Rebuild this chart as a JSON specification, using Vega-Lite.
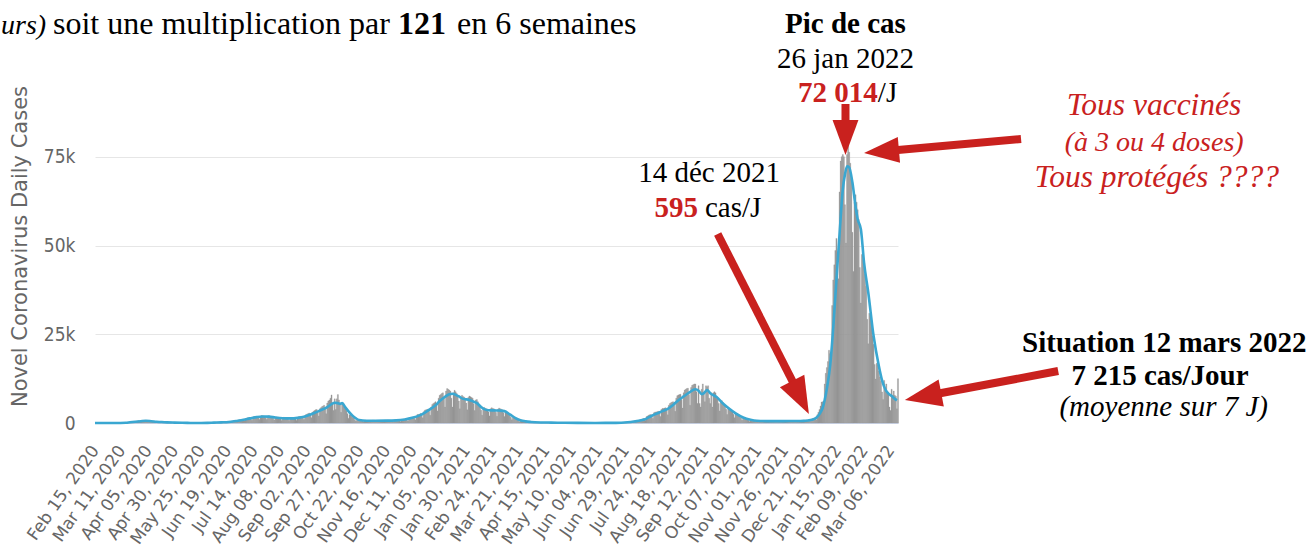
{
"$schema": "https://vega.github.io/schema/vega-lite/v6.json",
"width": 803, "height": 284,
"autosize": {"type": "none"},
"padding": {"left": 95, "top": 139, "right": 413, "bottom": 127},
"background": "white",
"config": {"view": {"stroke": null}, "font": "DejaVu Sans", "axis": {"labelOverlap": false}, "axisX": {"labelOverlap": false}},
"datasets": {
"daily": [
{"d":"2020-02-15","c":0},{"d":"2020-02-16","c":0},{"d":"2020-02-17","c":0},{"d":"2020-02-18","c":0},{"d":"2020-02-19","c":0},{"d":"2020-02-20","c":0},{"d":"2020-02-21","c":1},{"d":"2020-02-22","c":0},{"d":"2020-02-23","c":0},{"d":"2020-02-24","c":1},{"d":"2020-02-25","c":0},{"d":"2020-02-26","c":0},{"d":"2020-02-27","c":1},{"d":"2020-02-28","c":0},{"d":"2020-02-29","c":0},
{"d":"2020-03-01","c":2},{"d":"2020-03-02","c":3},{"d":"2020-03-03","c":2},{"d":"2020-03-04","c":3},{"d":"2020-03-05","c":5},{"d":"2020-03-06","c":4},{"d":"2020-03-07","c":2},{"d":"2020-03-08","c":8},{"d":"2020-03-09","c":11},{"d":"2020-03-10","c":25},{"d":"2020-03-11","c":18},{"d":"2020-03-12","c":31},{"d":"2020-03-13","c":28},{"d":"2020-03-14","c":50},{"d":"2020-03-15","c":70},{"d":"2020-03-16","c":100},{"d":"2020-03-17","c":125},{"d":"2020-03-18","c":180},{"d":"2020-03-19","c":240},{"d":"2020-03-20","c":170},{"d":"2020-03-21","c":180},{"d":"2020-03-22","c":400},{"d":"2020-03-23","c":420},{"d":"2020-03-24","c":450},{"d":"2020-03-25","c":560},{"d":"2020-03-26","c":650},{"d":"2020-03-27","c":520},{"d":"2020-03-28","c":380},{"d":"2020-03-29","c":600},{"d":"2020-03-30","c":720},{"d":"2020-03-31","c":700},
{"d":"2020-04-01","c":750},{"d":"2020-04-02","c":700},{"d":"2020-04-03","c":550},{"d":"2020-04-04","c":400},{"d":"2020-04-05","c":550},{"d":"2020-04-06","c":500},{"d":"2020-04-07","c":520},{"d":"2020-04-08","c":400},{"d":"2020-04-09","c":380},{"d":"2020-04-10","c":300},{"d":"2020-04-11","c":220},{"d":"2020-04-12","c":330},{"d":"2020-04-13","c":300},{"d":"2020-04-14","c":280},{"d":"2020-04-15","c":260},{"d":"2020-04-16","c":250},{"d":"2020-04-17","c":200},{"d":"2020-04-18","c":120},{"d":"2020-04-19","c":230},{"d":"2020-04-20","c":210},{"d":"2020-04-21","c":170},{"d":"2020-04-22","c":160},{"d":"2020-04-23","c":150},{"d":"2020-04-24","c":110},{"d":"2020-04-25","c":60},{"d":"2020-04-26","c":120},{"d":"2020-04-27","c":110},{"d":"2020-04-28","c":90},{"d":"2020-04-29","c":80},{"d":"2020-04-30","c":70},
{"d":"2020-05-01","c":50},{"d":"2020-05-02","c":20},{"d":"2020-05-03","c":45},{"d":"2020-05-04","c":40},{"d":"2020-05-05","c":35},{"d":"2020-05-06","c":30},{"d":"2020-05-07","c":25},{"d":"2020-05-08","c":20},{"d":"2020-05-09","c":10},{"d":"2020-05-10","c":20},{"d":"2020-05-11","c":15},{"d":"2020-05-12","c":15},{"d":"2020-05-13","c":12},{"d":"2020-05-14","c":10},{"d":"2020-05-15","c":10},{"d":"2020-05-16","c":5},{"d":"2020-05-17","c":15},{"d":"2020-05-18","c":10},{"d":"2020-05-19","c":12},{"d":"2020-05-20","c":15},{"d":"2020-05-21","c":10},{"d":"2020-05-22","c":8},{"d":"2020-05-23","c":5},{"d":"2020-05-24","c":15},{"d":"2020-05-25","c":20},{"d":"2020-05-26","c":20},{"d":"2020-05-27","c":30},{"d":"2020-05-28","c":40},{"d":"2020-05-29","c":50},{"d":"2020-05-30","c":30},{"d":"2020-05-31","c":80},
{"d":"2020-06-01","c":100},{"d":"2020-06-02","c":110},{"d":"2020-06-03","c":120},{"d":"2020-06-04","c":130},{"d":"2020-06-05","c":110},{"d":"2020-06-06","c":60},{"d":"2020-06-07","c":150},{"d":"2020-06-08","c":170},{"d":"2020-06-09","c":180},{"d":"2020-06-10","c":190},{"d":"2020-06-11","c":180},{"d":"2020-06-12","c":150},{"d":"2020-06-13","c":90},{"d":"2020-06-14","c":220},{"d":"2020-06-15","c":250},{"d":"2020-06-16","c":290},{"d":"2020-06-17","c":310},{"d":"2020-06-18","c":320},{"d":"2020-06-19","c":260},{"d":"2020-06-20","c":170},{"d":"2020-06-21","c":400},{"d":"2020-06-22","c":480},{"d":"2020-06-23","c":560},{"d":"2020-06-24","c":650},{"d":"2020-06-25","c":690},{"d":"2020-06-26","c":560},{"d":"2020-06-27","c":380},{"d":"2020-06-28","c":800},{"d":"2020-06-29","c":900},{"d":"2020-06-30","c":950},
{"d":"2020-07-01","c":1000},{"d":"2020-07-02","c":1000},{"d":"2020-07-03","c":850},{"d":"2020-07-04","c":600},{"d":"2020-07-05","c":1200},{"d":"2020-07-06","c":1350},{"d":"2020-07-07","c":1450},{"d":"2020-07-08","c":1450},{"d":"2020-07-09","c":1400},{"d":"2020-07-10","c":1150},{"d":"2020-07-11","c":800},{"d":"2020-07-12","c":1650},{"d":"2020-07-13","c":1850},{"d":"2020-07-14","c":1800},{"d":"2020-07-15","c":1800},{"d":"2020-07-16","c":1750},{"d":"2020-07-17","c":1500},{"d":"2020-07-18","c":1000},{"d":"2020-07-19","c":1950},{"d":"2020-07-20","c":2100},{"d":"2020-07-21","c":2050},{"d":"2020-07-22","c":2000},{"d":"2020-07-23","c":1900},{"d":"2020-07-24","c":1550},{"d":"2020-07-25","c":1000},{"d":"2020-07-26","c":1950},{"d":"2020-07-27","c":2050},{"d":"2020-07-28","c":1950},{"d":"2020-07-29","c":1850},{"d":"2020-07-30","c":1700},{"d":"2020-07-31","c":1350},
{"d":"2020-08-01","c":850},{"d":"2020-08-02","c":1650},{"d":"2020-08-03","c":1700},{"d":"2020-08-04","c":1600},{"d":"2020-08-05","c":1550},{"d":"2020-08-06","c":1450},{"d":"2020-08-07","c":1150},{"d":"2020-08-08","c":700},{"d":"2020-08-09","c":1500},{"d":"2020-08-10","c":1600},{"d":"2020-08-11","c":1550},{"d":"2020-08-12","c":1450},{"d":"2020-08-13","c":1400},{"d":"2020-08-14","c":1100},{"d":"2020-08-15","c":700},{"d":"2020-08-16","c":1400},{"d":"2020-08-17","c":1550},{"d":"2020-08-18","c":1500},{"d":"2020-08-19","c":1450},{"d":"2020-08-20","c":1400},{"d":"2020-08-21","c":1150},{"d":"2020-08-22","c":750},{"d":"2020-08-23","c":1550},{"d":"2020-08-24","c":1750},{"d":"2020-08-25","c":1800},{"d":"2020-08-26","c":1850},{"d":"2020-08-27","c":1900},{"d":"2020-08-28","c":1550},{"d":"2020-08-29","c":1000},{"d":"2020-08-30","c":2100},{"d":"2020-08-31","c":2400},
{"d":"2020-09-01","c":2500},{"d":"2020-09-02","c":2700},{"d":"2020-09-03","c":2800},{"d":"2020-09-04","c":2300},{"d":"2020-09-05","c":1500},{"d":"2020-09-06","c":3000},{"d":"2020-09-07","c":3300},{"d":"2020-09-08","c":3500},{"d":"2020-09-09","c":3700},{"d":"2020-09-10","c":3800},{"d":"2020-09-11","c":3100},{"d":"2020-09-12","c":2000},{"d":"2020-09-13","c":4000},{"d":"2020-09-14","c":4300},{"d":"2020-09-15","c":4600},{"d":"2020-09-16","c":4800},{"d":"2020-09-17","c":5000},{"d":"2020-09-18","c":4000},{"d":"2020-09-19","c":2600},{"d":"2020-09-20","c":5600},{"d":"2020-09-21","c":6200},{"d":"2020-09-22","c":6500},{"d":"2020-09-23","c":7000},{"d":"2020-09-24","c":7900},{"d":"2020-09-25","c":5500},{"d":"2020-09-26","c":3500},{"d":"2020-09-27","c":6800},{"d":"2020-09-28","c":3800},{"d":"2020-09-29","c":6800},{"d":"2020-09-30","c":8000},
{"d":"2020-10-01","c":6500},{"d":"2020-10-02","c":5500},{"d":"2020-10-03","c":3000},{"d":"2020-10-04","c":5200},{"d":"2020-10-05","c":5500},{"d":"2020-10-06","c":4500},{"d":"2020-10-07","c":4000},{"d":"2020-10-08","c":3500},{"d":"2020-10-09","c":2600},{"d":"2020-10-10","c":1300},{"d":"2020-10-11","c":2300},{"d":"2020-10-12","c":2400},{"d":"2020-10-13","c":1900},{"d":"2020-10-14","c":1600},{"d":"2020-10-15","c":1400},{"d":"2020-10-16","c":900},{"d":"2020-10-17","c":550},{"d":"2020-10-18","c":850},{"d":"2020-10-19","c":850},{"d":"2020-10-20","c":750},{"d":"2020-10-21","c":700},{"d":"2020-10-22","c":720},{"d":"2020-10-23","c":560},{"d":"2020-10-24","c":350},{"d":"2020-10-25","c":700},{"d":"2020-10-26","c":750},{"d":"2020-10-27","c":700},{"d":"2020-10-28","c":650},{"d":"2020-10-29","c":650},{"d":"2020-10-30","c":500},{"d":"2020-10-31","c":300},
{"d":"2020-11-01","c":700},{"d":"2020-11-02","c":780},{"d":"2020-11-03","c":750},{"d":"2020-11-04","c":720},{"d":"2020-11-05","c":690},{"d":"2020-11-06","c":550},{"d":"2020-11-07","c":350},{"d":"2020-11-08","c":690},{"d":"2020-11-09","c":760},{"d":"2020-11-10","c":740},{"d":"2020-11-11","c":710},{"d":"2020-11-12","c":680},{"d":"2020-11-13","c":540},{"d":"2020-11-14","c":350},{"d":"2020-11-15","c":700},{"d":"2020-11-16","c":800},{"d":"2020-11-17","c":760},{"d":"2020-11-18","c":730},{"d":"2020-11-19","c":700},{"d":"2020-11-20","c":560},{"d":"2020-11-21","c":360},{"d":"2020-11-22","c":760},{"d":"2020-11-23","c":850},{"d":"2020-11-24","c":820},{"d":"2020-11-25","c":800},{"d":"2020-11-26","c":780},{"d":"2020-11-27","c":620},{"d":"2020-11-28","c":400},{"d":"2020-11-29","c":900},{"d":"2020-11-30","c":1000},
{"d":"2020-12-01","c":1050},{"d":"2020-12-02","c":1050},{"d":"2020-12-03","c":1050},{"d":"2020-12-04","c":850},{"d":"2020-12-05","c":550},{"d":"2020-12-06","c":1350},{"d":"2020-12-07","c":1550},{"d":"2020-12-08","c":1550},{"d":"2020-12-09","c":1600},{"d":"2020-12-10","c":1650},{"d":"2020-12-11","c":1350},{"d":"2020-12-12","c":900},{"d":"2020-12-13","c":2000},{"d":"2020-12-14","c":2400},{"d":"2020-12-15","c":2400},{"d":"2020-12-16","c":2500},{"d":"2020-12-17","c":2700},{"d":"2020-12-18","c":2300},{"d":"2020-12-19","c":1500},{"d":"2020-12-20","c":3200},{"d":"2020-12-21","c":3600},{"d":"2020-12-22","c":3700},{"d":"2020-12-23","c":3800},{"d":"2020-12-24","c":3900},{"d":"2020-12-25","c":3300},{"d":"2020-12-26","c":2200},{"d":"2020-12-27","c":4500},{"d":"2020-12-28","c":5200},{"d":"2020-12-29","c":5500},{"d":"2020-12-30","c":5700},{"d":"2020-12-31","c":6000},
{"d":"2021-01-01","c":5200},{"d":"2021-01-02","c":3400},{"d":"2021-01-03","c":7000},{"d":"2021-01-04","c":7800},{"d":"2021-01-05","c":8000},{"d":"2021-01-06","c":8300},{"d":"2021-01-07","c":8500},{"d":"2021-01-08","c":7000},{"d":"2021-01-09","c":4500},{"d":"2021-01-10","c":9000},{"d":"2021-01-11","c":9700},{"d":"2021-01-12","c":9500},{"d":"2021-01-13","c":9300},{"d":"2021-01-14","c":9000},{"d":"2021-01-15","c":7000},{"d":"2021-01-16","c":4500},{"d":"2021-01-17","c":8500},{"d":"2021-01-18","c":9200},{"d":"2021-01-19","c":8800},{"d":"2021-01-20","c":8300},{"d":"2021-01-21","c":7800},{"d":"2021-01-22","c":6200},{"d":"2021-01-23","c":4000},{"d":"2021-01-24","c":7300},{"d":"2021-01-25","c":7800},{"d":"2021-01-26","c":7500},{"d":"2021-01-27","c":7300},{"d":"2021-01-28","c":7000},{"d":"2021-01-29","c":5600},{"d":"2021-01-30","c":3700},{"d":"2021-01-31","c":7200},
{"d":"2021-02-01","c":7600},{"d":"2021-02-02","c":7400},{"d":"2021-02-03","c":7200},{"d":"2021-02-04","c":7000},{"d":"2021-02-05","c":5400},{"d":"2021-02-06","c":3500},{"d":"2021-02-07","c":6500},{"d":"2021-02-08","c":6600},{"d":"2021-02-09","c":6000},{"d":"2021-02-10","c":5300},{"d":"2021-02-11","c":4700},{"d":"2021-02-12","c":3600},{"d":"2021-02-13","c":2200},{"d":"2021-02-14","c":4200},{"d":"2021-02-15","c":4400},{"d":"2021-02-16","c":4100},{"d":"2021-02-17","c":4000},{"d":"2021-02-18","c":3900},{"d":"2021-02-19","c":3100},{"d":"2021-02-20","c":2000},{"d":"2021-02-21","c":4000},{"d":"2021-02-22","c":4300},{"d":"2021-02-23","c":4100},{"d":"2021-02-24","c":4000},{"d":"2021-02-25","c":3800},{"d":"2021-02-26","c":3000},{"d":"2021-02-27","c":1900},{"d":"2021-02-28","c":3900},
{"d":"2021-03-01","c":4200},{"d":"2021-03-02","c":4000},{"d":"2021-03-03","c":3900},{"d":"2021-03-04","c":3700},{"d":"2021-03-05","c":2900},{"d":"2021-03-06","c":1800},{"d":"2021-03-07","c":3300},{"d":"2021-03-08","c":3100},{"d":"2021-03-09","c":2700},{"d":"2021-03-10","c":2500},{"d":"2021-03-11","c":2200},{"d":"2021-03-12","c":1600},{"d":"2021-03-13","c":900},{"d":"2021-03-14","c":1600},{"d":"2021-03-15","c":1500},{"d":"2021-03-16","c":1300},{"d":"2021-03-17","c":1100},{"d":"2021-03-18","c":950},{"d":"2021-03-19","c":650},{"d":"2021-03-20","c":350},{"d":"2021-03-21","c":650},{"d":"2021-03-22","c":600},{"d":"2021-03-23","c":520},{"d":"2021-03-24","c":480},{"d":"2021-03-25","c":430},{"d":"2021-03-26","c":300},{"d":"2021-03-27","c":180},{"d":"2021-03-28","c":330},{"d":"2021-03-29","c":350},{"d":"2021-03-30","c":300},{"d":"2021-03-31","c":280},
{"d":"2021-04-01","c":250},{"d":"2021-04-02","c":180},{"d":"2021-04-03","c":100},{"d":"2021-04-04","c":200},{"d":"2021-04-05","c":230},{"d":"2021-04-06","c":220},{"d":"2021-04-07","c":200},{"d":"2021-04-08","c":190},{"d":"2021-04-09","c":140},{"d":"2021-04-10","c":70},{"d":"2021-04-11","c":160},{"d":"2021-04-12","c":170},{"d":"2021-04-13","c":150},{"d":"2021-04-14","c":120},{"d":"2021-04-15","c":110},{"d":"2021-04-16","c":90},{"d":"2021-04-17","c":50},{"d":"2021-04-18","c":120},{"d":"2021-04-19","c":130},{"d":"2021-04-20","c":120},{"d":"2021-04-21","c":110},{"d":"2021-04-22","c":100},{"d":"2021-04-23","c":80},{"d":"2021-04-24","c":40},{"d":"2021-04-25","c":90},{"d":"2021-04-26","c":100},{"d":"2021-04-27","c":90},{"d":"2021-04-28","c":80},{"d":"2021-04-29","c":75},{"d":"2021-04-30","c":60},
{"d":"2021-05-01","c":30},{"d":"2021-05-02","c":60},{"d":"2021-05-03","c":70},{"d":"2021-05-04","c":65},{"d":"2021-05-05","c":60},{"d":"2021-05-06","c":55},{"d":"2021-05-07","c":45},{"d":"2021-05-08","c":20},{"d":"2021-05-09","c":50},{"d":"2021-05-10","c":55},{"d":"2021-05-11","c":50},{"d":"2021-05-12","c":45},{"d":"2021-05-13","c":40},{"d":"2021-05-14","c":30},{"d":"2021-05-15","c":15},{"d":"2021-05-16","c":40},{"d":"2021-05-17","c":45},{"d":"2021-05-18","c":40},{"d":"2021-05-19","c":35},{"d":"2021-05-20","c":35},{"d":"2021-05-21","c":25},{"d":"2021-05-22","c":12},{"d":"2021-05-23","c":30},{"d":"2021-05-24","c":35},{"d":"2021-05-25","c":30},{"d":"2021-05-26","c":25},{"d":"2021-05-27","c":25},{"d":"2021-05-28","c":20},{"d":"2021-05-29","c":10},{"d":"2021-05-30","c":20},{"d":"2021-05-31","c":25},
{"d":"2021-06-01","c":20},{"d":"2021-06-02","c":20},{"d":"2021-06-03","c":18},{"d":"2021-06-04","c":15},{"d":"2021-06-05","c":8},{"d":"2021-06-06","c":15},{"d":"2021-06-07","c":18},{"d":"2021-06-08","c":15},{"d":"2021-06-09","c":15},{"d":"2021-06-10","c":15},{"d":"2021-06-11","c":10},{"d":"2021-06-12","c":5},{"d":"2021-06-13","c":15},{"d":"2021-06-14","c":20},{"d":"2021-06-15","c":30},{"d":"2021-06-16","c":40},{"d":"2021-06-17","c":55},{"d":"2021-06-18","c":50},{"d":"2021-06-19","c":30},{"d":"2021-06-20","c":90},{"d":"2021-06-21","c":110},{"d":"2021-06-22","c":120},{"d":"2021-06-23","c":130},{"d":"2021-06-24","c":140},{"d":"2021-06-25","c":110},{"d":"2021-06-26","c":70},{"d":"2021-06-27","c":200},{"d":"2021-06-28","c":250},{"d":"2021-06-29","c":280},{"d":"2021-06-30","c":300},
{"d":"2021-07-01","c":320},{"d":"2021-07-02","c":280},{"d":"2021-07-03","c":180},{"d":"2021-07-04","c":420},{"d":"2021-07-05","c":480},{"d":"2021-07-06","c":500},{"d":"2021-07-07","c":550},{"d":"2021-07-08","c":600},{"d":"2021-07-09","c":500},{"d":"2021-07-10","c":350},{"d":"2021-07-11","c":800},{"d":"2021-07-12","c":900},{"d":"2021-07-13","c":1000},{"d":"2021-07-14","c":1100},{"d":"2021-07-15","c":1250},{"d":"2021-07-16","c":1100},{"d":"2021-07-17","c":750},{"d":"2021-07-18","c":1800},{"d":"2021-07-19","c":2000},{"d":"2021-07-20","c":2200},{"d":"2021-07-21","c":2300},{"d":"2021-07-22","c":2400},{"d":"2021-07-23","c":2000},{"d":"2021-07-24","c":1300},{"d":"2021-07-25","c":2900},{"d":"2021-07-26","c":3100},{"d":"2021-07-27","c":3100},{"d":"2021-07-28","c":3200},{"d":"2021-07-29","c":3300},{"d":"2021-07-30","c":2800},{"d":"2021-07-31","c":1800},
{"d":"2021-08-01","c":3800},{"d":"2021-08-02","c":4100},{"d":"2021-08-03","c":4100},{"d":"2021-08-04","c":4200},{"d":"2021-08-05","c":4300},{"d":"2021-08-06","c":3600},{"d":"2021-08-07","c":2300},{"d":"2021-08-08","c":5000},{"d":"2021-08-09","c":5500},{"d":"2021-08-10","c":5700},{"d":"2021-08-11","c":5900},{"d":"2021-08-12","c":6000},{"d":"2021-08-13","c":5000},{"d":"2021-08-14","c":3300},{"d":"2021-08-15","c":7000},{"d":"2021-08-16","c":7700},{"d":"2021-08-17","c":7900},{"d":"2021-08-18","c":8000},{"d":"2021-08-19","c":8100},{"d":"2021-08-20","c":6600},{"d":"2021-08-21","c":4200},{"d":"2021-08-22","c":8500},{"d":"2021-08-23","c":9300},{"d":"2021-08-24","c":9500},{"d":"2021-08-25","c":9700},{"d":"2021-08-26","c":9800},{"d":"2021-08-27","c":8000},{"d":"2021-08-28","c":5000},{"d":"2021-08-29","c":10000},{"d":"2021-08-30","c":10600},{"d":"2021-08-31","c":10800},
{"d":"2021-09-01","c":11000},{"d":"2021-09-02","c":11000},{"d":"2021-09-03","c":8800},{"d":"2021-09-04","c":5500},{"d":"2021-09-05","c":10500},{"d":"2021-09-06","c":5500},{"d":"2021-09-07","c":4500},{"d":"2021-09-08","c":9500},{"d":"2021-09-09","c":11000},{"d":"2021-09-10","c":8500},{"d":"2021-09-11","c":6000},{"d":"2021-09-12","c":10500},{"d":"2021-09-13","c":10200},{"d":"2021-09-14","c":10500},{"d":"2021-09-15","c":7000},{"d":"2021-09-16","c":5500},{"d":"2021-09-17","c":8500},{"d":"2021-09-18","c":4500},{"d":"2021-09-19","c":8500},{"d":"2021-09-20","c":8800},{"d":"2021-09-21","c":8500},{"d":"2021-09-22","c":7000},{"d":"2021-09-23","c":6800},{"d":"2021-09-24","c":5500},{"d":"2021-09-25","c":3400},{"d":"2021-09-26","c":6200},{"d":"2021-09-27","c":6300},{"d":"2021-09-28","c":5800},{"d":"2021-09-29","c":5300},{"d":"2021-09-30","c":5000},
{"d":"2021-10-01","c":3900},{"d":"2021-10-02","c":2400},{"d":"2021-10-03","c":4200},{"d":"2021-10-04","c":4100},{"d":"2021-10-05","c":3800},{"d":"2021-10-06","c":3500},{"d":"2021-10-07","c":3200},{"d":"2021-10-08","c":2500},{"d":"2021-10-09","c":1500},{"d":"2021-10-10","c":2600},{"d":"2021-10-11","c":2500},{"d":"2021-10-12","c":2200},{"d":"2021-10-13","c":2000},{"d":"2021-10-14","c":1800},{"d":"2021-10-15","c":1400},{"d":"2021-10-16","c":800},{"d":"2021-10-17","c":1500},{"d":"2021-10-18","c":1400},{"d":"2021-10-19","c":1250},{"d":"2021-10-20","c":1100},{"d":"2021-10-21","c":1000},{"d":"2021-10-22","c":800},{"d":"2021-10-23","c":450},{"d":"2021-10-24","c":850},{"d":"2021-10-25","c":850},{"d":"2021-10-26","c":750},{"d":"2021-10-27","c":700},{"d":"2021-10-28","c":650},{"d":"2021-10-29","c":500},{"d":"2021-10-30","c":300},{"d":"2021-10-31","c":600},
{"d":"2021-11-01","c":620},{"d":"2021-11-02","c":600},{"d":"2021-11-03","c":570},{"d":"2021-11-04","c":550},{"d":"2021-11-05","c":440},{"d":"2021-11-06","c":280},{"d":"2021-11-07","c":560},{"d":"2021-11-08","c":600},{"d":"2021-11-09","c":580},{"d":"2021-11-10","c":560},{"d":"2021-11-11","c":540},{"d":"2021-11-12","c":430},{"d":"2021-11-13","c":270},{"d":"2021-11-14","c":550},{"d":"2021-11-15","c":590},{"d":"2021-11-16","c":580},{"d":"2021-11-17","c":560},{"d":"2021-11-18","c":540},{"d":"2021-11-19","c":430},{"d":"2021-11-20","c":270},{"d":"2021-11-21","c":560},{"d":"2021-11-22","c":600},{"d":"2021-11-23","c":590},{"d":"2021-11-24","c":570},{"d":"2021-11-25","c":550},{"d":"2021-11-26","c":440},{"d":"2021-11-27","c":280},{"d":"2021-11-28","c":570},{"d":"2021-11-29","c":610},{"d":"2021-11-30","c":600},
{"d":"2021-12-01","c":580},{"d":"2021-12-02","c":560},{"d":"2021-12-03","c":450},{"d":"2021-12-04","c":280},{"d":"2021-12-05","c":580},{"d":"2021-12-06","c":640},{"d":"2021-12-07","c":640},{"d":"2021-12-08","c":620},{"d":"2021-12-09","c":610},{"d":"2021-12-10","c":500},{"d":"2021-12-11","c":320},{"d":"2021-12-12","c":640},{"d":"2021-12-13","c":720},{"d":"2021-12-14","c":756},{"d":"2021-12-15","c":740},{"d":"2021-12-16","c":760},{"d":"2021-12-17","c":620},{"d":"2021-12-18","c":420},{"d":"2021-12-19","c":900},{"d":"2021-12-20","c":1050},{"d":"2021-12-21","c":1150},{"d":"2021-12-22","c":1300},{"d":"2021-12-23","c":1400},{"d":"2021-12-24","c":1250},{"d":"2021-12-25","c":900},{"d":"2021-12-26","c":2300},{"d":"2021-12-27","c":3000},{"d":"2021-12-28","c":3800},{"d":"2021-12-29","c":4800},{"d":"2021-12-30","c":5900},{"d":"2021-12-31","c":6000},
{"d":"2022-01-01","c":5950},{"d":"2022-01-02","c":11000},{"d":"2022-01-03","c":14000},{"d":"2022-01-04","c":15600},{"d":"2022-01-05","c":17300},{"d":"2022-01-06","c":20500},{"d":"2022-01-07","c":19550},{"d":"2022-01-08","c":18900},{"d":"2022-01-09","c":33100},{"d":"2022-01-10","c":40300},{"d":"2022-01-11","c":44550},{"d":"2022-01-12","c":48600},{"d":"2022-01-13","c":52000},{"d":"2022-01-14","c":45650},{"d":"2022-01-15","c":40600},{"d":"2022-01-16","c":65100},{"d":"2022-01-17","c":73800},{"d":"2022-01-18","c":75000},{"d":"2022-01-19","c":75600},{"d":"2022-01-20","c":75000},{"d":"2022-01-21","c":61500},{"d":"2022-01-22","c":50700},{"d":"2022-01-23","c":75600},{"d":"2022-01-24","c":79300},{"d":"2022-01-25","c":76300},{"d":"2022-01-26","c":73200},{"d":"2022-01-27","c":68800},{"d":"2022-01-28","c":53700},{"d":"2022-01-29","c":42700},{"d":"2022-01-30","c":62200},{"d":"2022-01-31","c":64300},
{"d":"2022-02-01","c":62150},{"d":"2022-02-02","c":60050},{"d":"2022-02-03","c":57300},{"d":"2022-02-04","c":43800},{"d":"2022-02-05","c":33800},{"d":"2022-02-06","c":47500},{"d":"2022-02-07","c":48200},{"d":"2022-02-08","c":45000},{"d":"2022-02-09","c":41900},{"d":"2022-02-10","c":38500},{"d":"2022-02-11","c":29200},{"d":"2022-02-12","c":22300},{"d":"2022-02-13","c":30900},{"d":"2022-02-14","c":30100},{"d":"2022-02-15","c":26950},{"d":"2022-02-16","c":24600},{"d":"2022-02-17","c":22150},{"d":"2022-02-18","c":16500},{"d":"2022-02-19","c":12400},{"d":"2022-02-20","c":16800},{"d":"2022-02-21","c":16450},{"d":"2022-02-22","c":14650},{"d":"2022-02-23","c":12950},{"d":"2022-02-24","c":11750},{"d":"2022-02-25","c":8750},{"d":"2022-02-26","c":6650},{"d":"2022-02-27","c":12000},{"d":"2022-02-28","c":9750},
{"d":"2022-03-01","c":11000},{"d":"2022-03-02","c":8750},{"d":"2022-03-03","c":8200},{"d":"2022-03-04","c":4500},{"d":"2022-03-05","c":3500},{"d":"2022-03-06","c":9500},{"d":"2022-03-07","c":7850},{"d":"2022-03-08","c":9000},{"d":"2022-03-09","c":7800},{"d":"2022-03-10","c":7550},{"d":"2022-03-11","c":4000},{"d":"2022-03-12","c":12500}
],
"avg": [
{"d":"2020-02-15","a":0},{"d":"2020-03-01","a":3},{"d":"2020-03-10","a":15},{"d":"2020-03-15","a":50},{"d":"2020-03-19","a":200},{"d":"2020-03-24","a":360},{"d":"2020-03-29","a":500},{"d":"2020-04-03","a":620},{"d":"2020-04-08","a":510},{"d":"2020-04-13","a":370},{"d":"2020-04-18","a":260},{"d":"2020-04-23","a":180},{"d":"2020-04-30","a":110},{"d":"2020-05-07","a":50},{"d":"2020-05-15","a":20},{"d":"2020-05-25","a":15},{"d":"2020-05-31","a":40},{"d":"2020-06-06","a":110},{"d":"2020-06-13","a":180},{"d":"2020-06-20","a":290},{"d":"2020-06-27","a":580},{"d":"2020-07-04","a":900},{"d":"2020-07-10","a":1300},{"d":"2020-07-16","a":1650},{"d":"2020-07-22","a":1850},{"d":"2020-07-28","a":1800},{"d":"2020-08-03","a":1550},{"d":"2020-08-10","a":1350},{"d":"2020-08-17","a":1300},{"d":"2020-08-24","a":1450},{"d":"2020-08-31","a":1850},{"d":"2020-09-07","a":2600},{"d":"2020-09-14","a":3500},{"d":"2020-09-21","a":4500},{"d":"2020-09-25","a":5300},{"d":"2020-09-28","a":5700},{"d":"2020-10-01","a":5600},{"d":"2020-10-03","a":5400},{"d":"2020-10-05","a":5600},{"d":"2020-10-08","a":4400},{"d":"2020-10-11","a":3300},{"d":"2020-10-15","a":2000},{"d":"2020-10-18","a":1300},{"d":"2020-10-21","a":850},{"d":"2020-10-28","a":650},{"d":"2020-11-05","a":640},{"d":"2020-11-15","a":660},{"d":"2020-11-25","a":740},{"d":"2020-12-03","a":1000},{"d":"2020-12-10","a":1450},{"d":"2020-12-17","a":2150},{"d":"2020-12-22","a":2950},{"d":"2020-12-27","a":3900},{"d":"2021-01-01","a":5000},{"d":"2021-01-05","a":6200},{"d":"2021-01-10","a":7400},{"d":"2021-01-14","a":8100},{"d":"2021-01-17","a":8250},{"d":"2021-01-21","a":7800},{"d":"2021-01-24","a":7300},{"d":"2021-01-27","a":6800},{"d":"2021-02-02","a":6500},{"d":"2021-02-06","a":6000},{"d":"2021-02-09","a":5600},{"d":"2021-02-13","a":4500},{"d":"2021-02-16","a":3900},{"d":"2021-02-20","a":3600},{"d":"2021-02-25","a":3550},{"d":"2021-03-02","a":3500},{"d":"2021-03-07","a":3350},{"d":"2021-03-12","a":2450},{"d":"2021-03-17","a":1450},{"d":"2021-03-22","a":780},{"d":"2021-03-27","a":460},{"d":"2021-04-01","a":300},{"d":"2021-04-10","a":160},{"d":"2021-04-20","a":110},{"d":"2021-05-01","a":70},{"d":"2021-05-15","a":40},{"d":"2021-06-01","a":20},{"d":"2021-06-15","a":25},{"d":"2021-06-25","a":90},{"d":"2021-07-01","a":200},{"d":"2021-07-07","a":400},{"d":"2021-07-14","a":750},{"d":"2021-07-19","a":1250},{"d":"2021-07-23","a":1900},{"d":"2021-07-28","a":2600},{"d":"2021-08-03","a":3350},{"d":"2021-08-08","a":4000},{"d":"2021-08-13","a":5100},{"d":"2021-08-18","a":6400},{"d":"2021-08-23","a":7500},{"d":"2021-08-28","a":8550},{"d":"2021-09-03","a":9500},{"d":"2021-09-06","a":9100},{"d":"2021-09-09","a":8100},{"d":"2021-09-11","a":8400},{"d":"2021-09-14","a":9300},{"d":"2021-09-17","a":8400},{"d":"2021-09-23","a":7300},{"d":"2021-09-29","a":5500},{"d":"2021-10-05","a":4000},{"d":"2021-10-11","a":2700},{"d":"2021-10-18","a":1550},{"d":"2021-10-25","a":900},{"d":"2021-10-31","a":620},{"d":"2021-11-09","a":540},{"d":"2021-11-20","a":530},{"d":"2021-12-01","a":545},{"d":"2021-12-10","a":570},{"d":"2021-12-14","a":595},{"d":"2021-12-18","a":700},{"d":"2021-12-22","a":890},{"d":"2021-12-26","a":1500},{"d":"2021-12-29","a":2500},{"d":"2022-01-01","a":4300},{"d":"2022-01-03","a":6600},{"d":"2022-01-05","a":9800},{"d":"2022-01-08","a":16000},{"d":"2022-01-11","a":27000},{"d":"2022-01-14","a":40500},{"d":"2022-01-17","a":53700},{"d":"2022-01-20","a":65900},{"d":"2022-01-22","a":70000},{"d":"2022-01-24","a":72300},{"d":"2022-01-26","a":72014},{"d":"2022-01-29","a":67800},{"d":"2022-02-01","a":61000},{"d":"2022-02-03","a":57400},{"d":"2022-02-06","a":54600},{"d":"2022-02-09","a":45200},{"d":"2022-02-13","a":36700},{"d":"2022-02-18","a":24500},{"d":"2022-02-23","a":16000},{"d":"2022-02-26","a":12000},{"d":"2022-03-01","a":9500},{"d":"2022-03-04","a":8300},{"d":"2022-03-07","a":7600},{"d":"2022-03-10","a":6800},{"d":"2022-03-12","a":6400}
]
},
"layer": [
{"data": {"name": "daily"},
 "mark": {"type": "bar", "color": "#969696", "stroke": "#969696", "strokeWidth": 0.3, "binSpacing": 0},
 "encoding": {
  "x": {"field": "d", "timeUnit": "utcyearmonthdate", "type": "temporal",
   "scale": {"type": "utc", "domain": [{"year":2020,"month":2,"date":15,"utc":true},{"year":2022,"month":3,"date":13,"utc":true}], "nice": false},
   "axis": {"title": null, "format": "%b %d, %Y", "tickCount": 100, "labelAngle": -55, "labelAlign": "right", "labelBaseline": "middle", "labelPadding": 24, "labelFont": "DejaVu Sans", "labelFontSize": 17, "labelColor": "#666666", "labelOverlap": false, "labelFlush": false, "ticks": false, "grid": false, "domainColor": "#ccd6eb", "domainWidth": 1,
    "values": [{"year":2020,"month":2,"date":15,"utc":true},{"year":2020,"month":3,"date":11,"utc":true},{"year":2020,"month":4,"date":5,"utc":true},{"year":2020,"month":4,"date":30,"utc":true},{"year":2020,"month":5,"date":25,"utc":true},{"year":2020,"month":6,"date":19,"utc":true},{"year":2020,"month":7,"date":14,"utc":true},{"year":2020,"month":8,"date":8,"utc":true},{"year":2020,"month":9,"date":2,"utc":true},{"year":2020,"month":9,"date":27,"utc":true},{"year":2020,"month":10,"date":22,"utc":true},{"year":2020,"month":11,"date":16,"utc":true},{"year":2020,"month":12,"date":11,"utc":true},{"year":2021,"month":1,"date":5,"utc":true},{"year":2021,"month":1,"date":30,"utc":true},{"year":2021,"month":2,"date":24,"utc":true},{"year":2021,"month":3,"date":21,"utc":true},{"year":2021,"month":4,"date":15,"utc":true},{"year":2021,"month":5,"date":10,"utc":true},{"year":2021,"month":6,"date":4,"utc":true},{"year":2021,"month":6,"date":29,"utc":true},{"year":2021,"month":7,"date":24,"utc":true},{"year":2021,"month":8,"date":18,"utc":true},{"year":2021,"month":9,"date":12,"utc":true},{"year":2021,"month":10,"date":7,"utc":true},{"year":2021,"month":11,"date":1,"utc":true},{"year":2021,"month":11,"date":26,"utc":true},{"year":2021,"month":12,"date":21,"utc":true},{"year":2022,"month":1,"date":15,"utc":true},{"year":2022,"month":2,"date":9,"utc":true},{"year":2022,"month":3,"date":6,"utc":true}]}},
  "y": {"field": "c", "type": "quantitative",
   "scale": {"domain": [0, 80000], "nice": false},
   "axis": {"values": [0, 25000, 50000, 75000], "format": "~s", "labelExpr": "datum.value == 0 ? '0' : datum.label", "grid": true, "gridColor": "#e6e6e6", "gridWidth": 1, "domain": false, "ticks": false, "labelPadding": 20, "labelFont": "Liberation Sans Narrow, DejaVu Sans Condensed, DejaVu Sans", "labelFontSize": 19, "labelColor": "#666666", "labelFlush": false,
    "title": "Novel Coronavirus Daily Cases", "titleFont": "DejaVu Sans", "titleFontSize": 21, "titleFontWeight": "normal", "titleColor": "#666666", "titleAngle": -90, "titleX": -75, "titleY": 107, "titleAlign": "center", "titleBaseline": "middle"}}
 }},
{"data": {"name": "avg"},
 "mark": {"type": "line", "color": "#3aa7d1", "strokeWidth": 2.6, "interpolate": "monotone"},
 "encoding": {"x": {"field": "d", "timeUnit": "utcyearmonthdate", "type": "temporal"}, "y": {"field": "a", "type": "quantitative"}}},

{"data": {"values": [{}]}, "mark": {"type": "rule", "color": "#c9211e", "strokeWidth": 8},
 "encoding": {"x": {"datum": {"year":2022,"month":1,"date":22,"hours":12,"utc":true}, "type": "temporal"}, "y": {"datum": 89860, "type": "quantitative"}, "x2": {"datum": {"year":2022,"month":1,"date":22,"hours":12,"utc":true}}, "y2": {"datum": 84225}}},
{"data": {"values": [{}]}, "mark": {"type": "point", "shape": "M0,0L-0.74,2L0.74,2Z", "filled": true, "color": "#c9211e", "opacity": 1, "size": 1225, "angle": 180},
 "encoding": {"x": {"datum": {"year":2022,"month":1,"date":22,"hours":12,"utc":true}, "type": "temporal"}, "y": {"datum": 75493, "type": "quantitative"}}},

{"data": {"values": [{}]}, "mark": {"type": "rule", "color": "#c9211e", "strokeWidth": 8},
 "encoding": {"x": {"datum": {"year":2022,"month":7,"date":7,"utc":true}, "type": "temporal"}, "y": {"datum": 80000, "type": "quantitative"}, "x2": {"datum": {"year":2022,"month":3,"date":12,"hours":22,"utc":true}}, "y2": {"datum": 76875}}},
{"data": {"values": [{}]}, "mark": {"type": "point", "shape": "M0,0L-0.74,2L0.74,2Z", "filled": true, "color": "#c9211e", "opacity": 1, "size": 1225, "angle": 265},
 "encoding": {"x": {"datum": {"year":2022,"month":2,"date":9,"utc":true}, "type": "temporal"}, "y": {"datum": 76056, "type": "quantitative"}}},

{"data": {"values": [{}]}, "mark": {"type": "rule", "color": "#c9211e", "strokeWidth": 8},
 "encoding": {"x": {"datum": {"year":2021,"month":9,"date":24,"utc":true}, "type": "temporal"}, "y": {"datum": 53240, "type": "quantitative"}, "x2": {"datum": {"year":2021,"month":12,"date":4,"hours":7,"utc":true}}, "y2": {"datum": 11324}}},
{"data": {"values": [{}]}, "mark": {"type": "point", "shape": "M0,0L-0.74,2L0.74,2Z", "filled": true, "color": "#c9211e", "opacity": 1, "size": 1369, "angle": 153},
 "encoding": {"x": {"datum": {"year":2021,"month":12,"date":19,"utc":true}, "type": "temporal"}, "y": {"datum": 2535, "type": "quantitative"}}},

{"data": {"values": [{}]}, "mark": {"type": "rule", "color": "#c9211e", "strokeWidth": 8},
 "encoding": {"x": {"datum": {"year":2022,"month":8,"date":11,"utc":true}, "type": "temporal"}, "y": {"datum": 14648, "type": "quantitative"}, "x2": {"datum": {"year":2022,"month":4,"date":19,"hours":5,"utc":true}}, "y2": {"datum": 8225}}},
{"data": {"values": [{}]}, "mark": {"type": "point", "shape": "M0,0L-0.74,2L0.74,2Z", "filled": true, "color": "#c9211e", "opacity": 1, "size": 1369, "angle": 259},
 "encoding": {"x": {"datum": {"year":2022,"month":3,"date":19,"hours":12,"utc":true}, "type": "temporal"}, "y": {"datum": 6479, "type": "quantitative"}}},

{"data": {"values": [{}]}, "mark": {"type": "text", "text": "Pic de cas", "font": "Liberation Serif", "fontSize": 29, "fontWeight": "bold", "color": "#000000", "align": "center", "baseline": "alphabetic"},
 "encoding": {"x": {"datum": {"year":2022,"month":1,"date":22,"hours":12,"utc":true}, "type": "temporal"}, "y": {"datum": 109860, "type": "quantitative"}}},
{"data": {"values": [{}]}, "mark": {"type": "text", "text": "26 jan 2022", "font": "Liberation Serif", "fontSize": 29, "color": "#000000", "align": "center", "baseline": "alphabetic"},
 "encoding": {"x": {"datum": {"year":2022,"month":1,"date":22,"hours":12,"utc":true}, "type": "temporal"}, "y": {"datum": 100000, "type": "quantitative"}}},
{"data": {"values": [{}]}, "mark": {"type": "text", "text": "72 014", "font": "Liberation Serif", "fontSize": 29, "fontWeight": "bold", "color": "#c9211e", "align": "right", "baseline": "alphabetic"},
 "encoding": {"x": {"datum": {"year":2022,"month":2,"date":22,"utc":true}, "type": "temporal"}, "y": {"datum": 90422, "type": "quantitative"}}},
{"data": {"values": [{}]}, "mark": {"type": "text", "text": "/J", "font": "Liberation Serif", "fontSize": 29, "color": "#000000", "align": "left", "baseline": "alphabetic"},
 "encoding": {"x": {"datum": {"year":2022,"month":2,"date":22,"utc":true}, "type": "temporal"}, "y": {"datum": 90422, "type": "quantitative"}}},

{"data": {"values": [{}]}, "mark": {"type": "text", "text": "Tous vaccinés", "font": "Liberation Serif", "fontSize": 31.5, "fontStyle": "italic", "color": "#c9211e", "align": "center", "baseline": "alphabetic"},
 "encoding": {"x": {"datum": {"year":2022,"month":11,"date":9,"hours":8,"utc":true}, "type": "temporal"}, "y": {"datum": 86761, "type": "quantitative"}}},
{"data": {"values": [{}]}, "mark": {"type": "text", "text": "(à 3 ou 4 doses)", "font": "Liberation Serif", "fontSize": 28, "fontStyle": "italic", "color": "#c9211e", "align": "center", "baseline": "alphabetic"},
 "encoding": {"x": {"datum": {"year":2022,"month":11,"date":9,"hours":12,"utc":true}, "type": "temporal"}, "y": {"datum": 76620, "type": "quantitative"}}},
{"data": {"values": [{}]}, "mark": {"type": "text", "text": "Tous protégés ????", "font": "Liberation Serif", "fontSize": 31.5, "fontStyle": "italic", "color": "#c9211e", "align": "center", "baseline": "alphabetic"},
 "encoding": {"x": {"datum": {"year":2022,"month":11,"date":12,"utc":true}, "type": "temporal"}, "y": {"datum": 66480, "type": "quantitative"}}},

{"data": {"values": [{}]}, "mark": {"type": "text", "text": "14 déc 2021", "font": "Liberation Serif", "fontSize": 29, "color": "#000000", "align": "center", "baseline": "alphabetic"},
 "encoding": {"x": {"datum": {"year":2021,"month":9,"date":15,"hours":22,"utc":true}, "type": "temporal"}, "y": {"datum": 67887, "type": "quantitative"}}},
{"data": {"values": [{}]}, "mark": {"type": "text", "text": "595", "font": "Liberation Serif", "fontSize": 29, "fontWeight": "bold", "color": "#c9211e", "align": "right", "baseline": "alphabetic"},
 "encoding": {"x": {"datum": {"year":2021,"month":9,"date":5,"hours":10,"utc":true}, "type": "temporal"}, "y": {"datum": 58028, "type": "quantitative"}}},
{"data": {"values": [{}]}, "mark": {"type": "text", "text": "cas/J", "font": "Liberation Serif", "fontSize": 29, "color": "#000000", "align": "left", "baseline": "alphabetic"},
 "encoding": {"x": {"datum": {"year":2021,"month":9,"date":12,"utc":true}, "type": "temporal"}, "y": {"datum": 58028, "type": "quantitative"}}},

{"data": {"values": [{}]}, "mark": {"type": "text", "text": "Situation 12 mars 2022", "font": "Liberation Serif", "fontSize": 29, "fontWeight": "bold", "color": "#000000", "align": "center", "baseline": "alphabetic"},
 "encoding": {"x": {"datum": {"year":2022,"month":11,"date":19,"utc":true}, "type": "temporal"}, "y": {"datum": 20084, "type": "quantitative"}}},
{"data": {"values": [{}]}, "mark": {"type": "text", "text": "7 215 cas/Jour", "font": "Liberation Serif", "fontSize": 29, "fontWeight": "bold", "color": "#000000", "align": "center", "baseline": "alphabetic"},
 "encoding": {"x": {"datum": {"year":2022,"month":11,"date":15,"utc":true}, "type": "temporal"}, "y": {"datum": 10704, "type": "quantitative"}}},
{"data": {"values": [{}]}, "mark": {"type": "text", "text": "(moyenne sur 7 J)", "font": "Liberation Serif", "fontSize": 29, "fontStyle": "italic", "color": "#000000", "align": "center", "baseline": "alphabetic"},
 "encoding": {"x": {"datum": {"year":2022,"month":11,"date":18,"hours":12,"utc":true}, "type": "temporal"}, "y": {"datum": 1972, "type": "quantitative"}}},

{"data": {"values": [{}]}, "mark": {"type": "text", "text": "urs)", "font": "Liberation Serif", "fontSize": 28, "fontStyle": "italic", "color": "#000000", "align": "left", "baseline": "alphabetic"},
 "encoding": {"x": {"datum": {"year":2019,"month":11,"date":18,"hours":10,"utc":true}, "type": "temporal"}, "y": {"datum": 109577, "type": "quantitative"}}},
{"data": {"values": [{}]}, "mark": {"type": "text", "text": "soit une multiplication par", "font": "Liberation Serif", "fontSize": 32, "color": "#000000", "align": "left", "baseline": "alphabetic"},
 "encoding": {"x": {"datum": {"year":2020,"month":1,"date":6,"hours":10,"utc":true}, "type": "temporal"}, "y": {"datum": 109577, "type": "quantitative"}}},
{"data": {"values": [{}]}, "mark": {"type": "text", "text": "121", "font": "Liberation Serif", "fontSize": 32, "fontWeight": "bold", "color": "#000000", "align": "left", "baseline": "alphabetic"},
 "encoding": {"x": {"datum": {"year":2020,"month":11,"date":26,"hours":14,"utc":true}, "type": "temporal"}, "y": {"datum": 109577, "type": "quantitative"}}},
{"data": {"values": [{}]}, "mark": {"type": "text", "text": "en 6 semaines", "font": "Liberation Serif", "fontSize": 32, "color": "#000000", "align": "left", "baseline": "alphabetic"},
 "encoding": {"x": {"datum": {"year":2021,"month":1,"date":21,"hours":7,"utc":true}, "type": "temporal"}, "y": {"datum": 109577, "type": "quantitative"}}}
]
}
